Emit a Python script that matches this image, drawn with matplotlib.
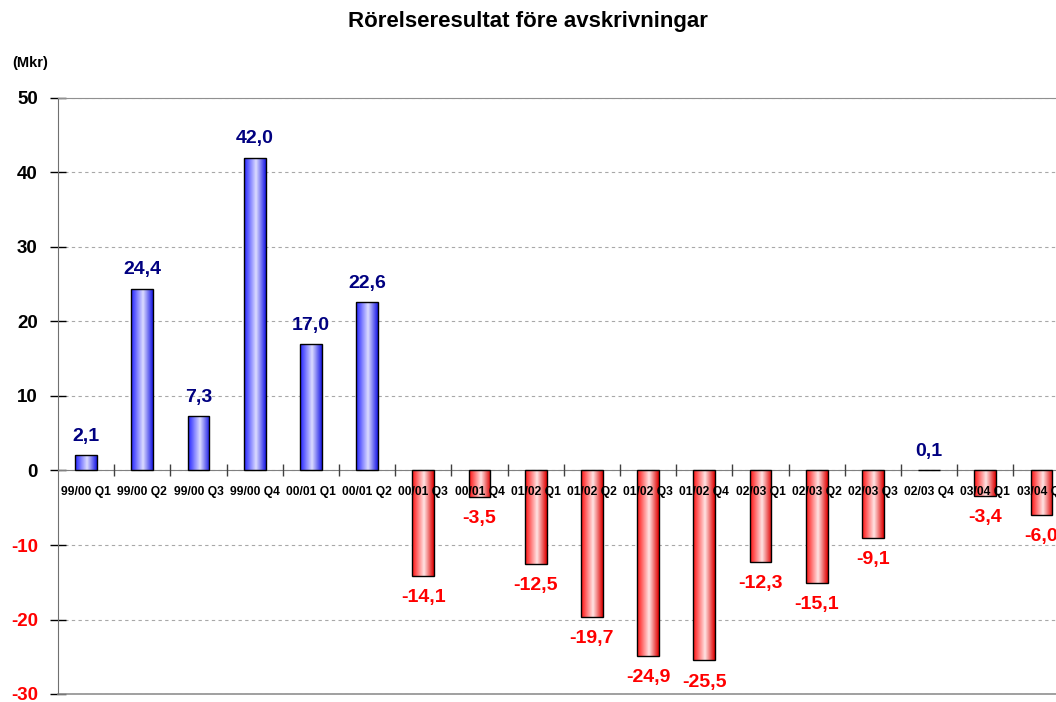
import numpy as np
import matplotlib
matplotlib.use("Agg")
import matplotlib.pyplot as plt
from matplotlib.colors import LinearSegmentedColormap

matplotlib.rcParams['font.family'] = ['Liberation Sans', 'DejaVu Sans']
matplotlib.rcParams['font.weight'] = 'bold'

# data
quarters = ['99/00 Q1', '99/00 Q2', '99/00 Q3', '99/00 Q4',
            '00/01 Q1', '00/01 Q2', '00/01 Q3', '00/01 Q4',
            '01/02 Q1', '01/02 Q2', '01/02 Q3', '01/02 Q4',
            '02/03 Q1', '02/03 Q2', '02/03 Q3', '02/03 Q4',
            '03/04 Q1', '03/04 Q2']
ebitda = [2.1, 24.4, 7.3, 42.0, 17.0, 22.6, -14.1, -3.5, -12.5, -19.7,
          -24.9, -25.5, -12.3, -15.1, -9.1, 0.1, -3.4, -6.0]
yticks = [-30, -20, -10, 0, 10, 20, 30, 40, 50]

blue_cm = LinearSegmentedColormap.from_list(
    'bl', [(0, '#2222ff'), (0.55, '#dcdcff'), (1, '#1a1ae6')])
red_cm = LinearSegmentedColormap.from_list(
    'rd', [(0, '#ff1010'), (0.55, '#ffe4e4'), (1, '#e00000')])
grad = np.linspace(0, 1, 64).reshape(1, -1)

fig = plt.figure(figsize=(10.56, 7.02), dpi=100)
ax = fig.add_axes([58 / 1056, 8 / 702, 1011.6 / 1056, 596 / 702])

x = np.arange(len(quarters))
bars = ax.bar(x, ebitda, width=0.39, facecolor='none', edgecolor='black',
              linewidth=1.0, zorder=3)

for b, v in zip(bars, ebitda):
    x0, y0 = b.get_x(), b.get_y()
    w, h = b.get_width(), b.get_height()
    ylo, yhi = min(y0, y0 + h), max(y0, y0 + h)
    cm = blue_cm if v >= 0 else red_cm
    im = ax.imshow(grad, cmap=cm, extent=(x0, x0 + w, ylo, yhi),
                   aspect='auto', zorder=2, interpolation='bilinear')
    im.set_clip_path(b)
    lab = f'{v:.1f}'.replace('.', ',')
    if v >= 0:
        ax.annotate(lab, (b.get_x() + w / 2, v), xytext=(0, 13.5),
                    textcoords='offset points', ha='center', va='center',
                    color='#000080', fontsize=14, fontweight='bold')
    else:
        ax.annotate(lab, (b.get_x() + w / 2, v), xytext=(0, -15.5),
                    textcoords='offset points', ha='center', va='center',
                    color='#ff0000', fontsize=14, fontweight='bold')

ax.set_xlim(-0.5, len(quarters) - 0.5)
ax.set_ylim(-30, 50)

# axes styling
ax.spines['bottom'].set_position(('data', 0))
ax.spines['bottom'].set_color('#808080')
ax.spines['left'].set_color('#707070')
ax.spines['top'].set_color('#909090')
ax.spines['right'].set_visible(False)
ax.axhline(-30, color='#909090', lw=1.2, clip_on=False, zorder=1)

ax.set_yticks(yticks)
ax.set_yticklabels([str(t) for t in yticks], fontsize=13.5, fontweight='bold')
for t, lbl in zip(yticks, ax.get_yticklabels()):
    lbl.set_color('#ff0000' if t < 0 else 'black')
ax.tick_params(axis='y', direction='inout', length=11, width=1.0,
               color='black', pad=9)

ax.set_xticks(x)
ax.set_xticklabels(quarters, fontsize=8.7, fontweight='bold')
ax.set_xticks(np.arange(0.5, len(quarters) - 0.5, 1), minor=True)
ax.tick_params(axis='x', which='major', length=0, pad=11)
ax.tick_params(axis='x', which='minor', direction='inout', length=9,
               width=1.0, color='#404040')

ax.yaxis.grid(True, color='#a8a8a8', linestyle=(0, (3, 3)), linewidth=0.8)
ax.set_axisbelow(True)
# category labels sit on top of the bars, as in the original
ax.xaxis.set_zorder(5)

fig.text(0.5, 1 - 22 / 702, 'Rörelseresultat före avskrivningar',
         ha='center', va='center', fontsize=16, fontweight='bold')
fig.text(12 / 1056, 1 - 63 / 702, '(Mkr)', ha='left', va='center',
         fontsize=10.5, fontweight='bold')

fig.savefig('out.png', dpi=100)
